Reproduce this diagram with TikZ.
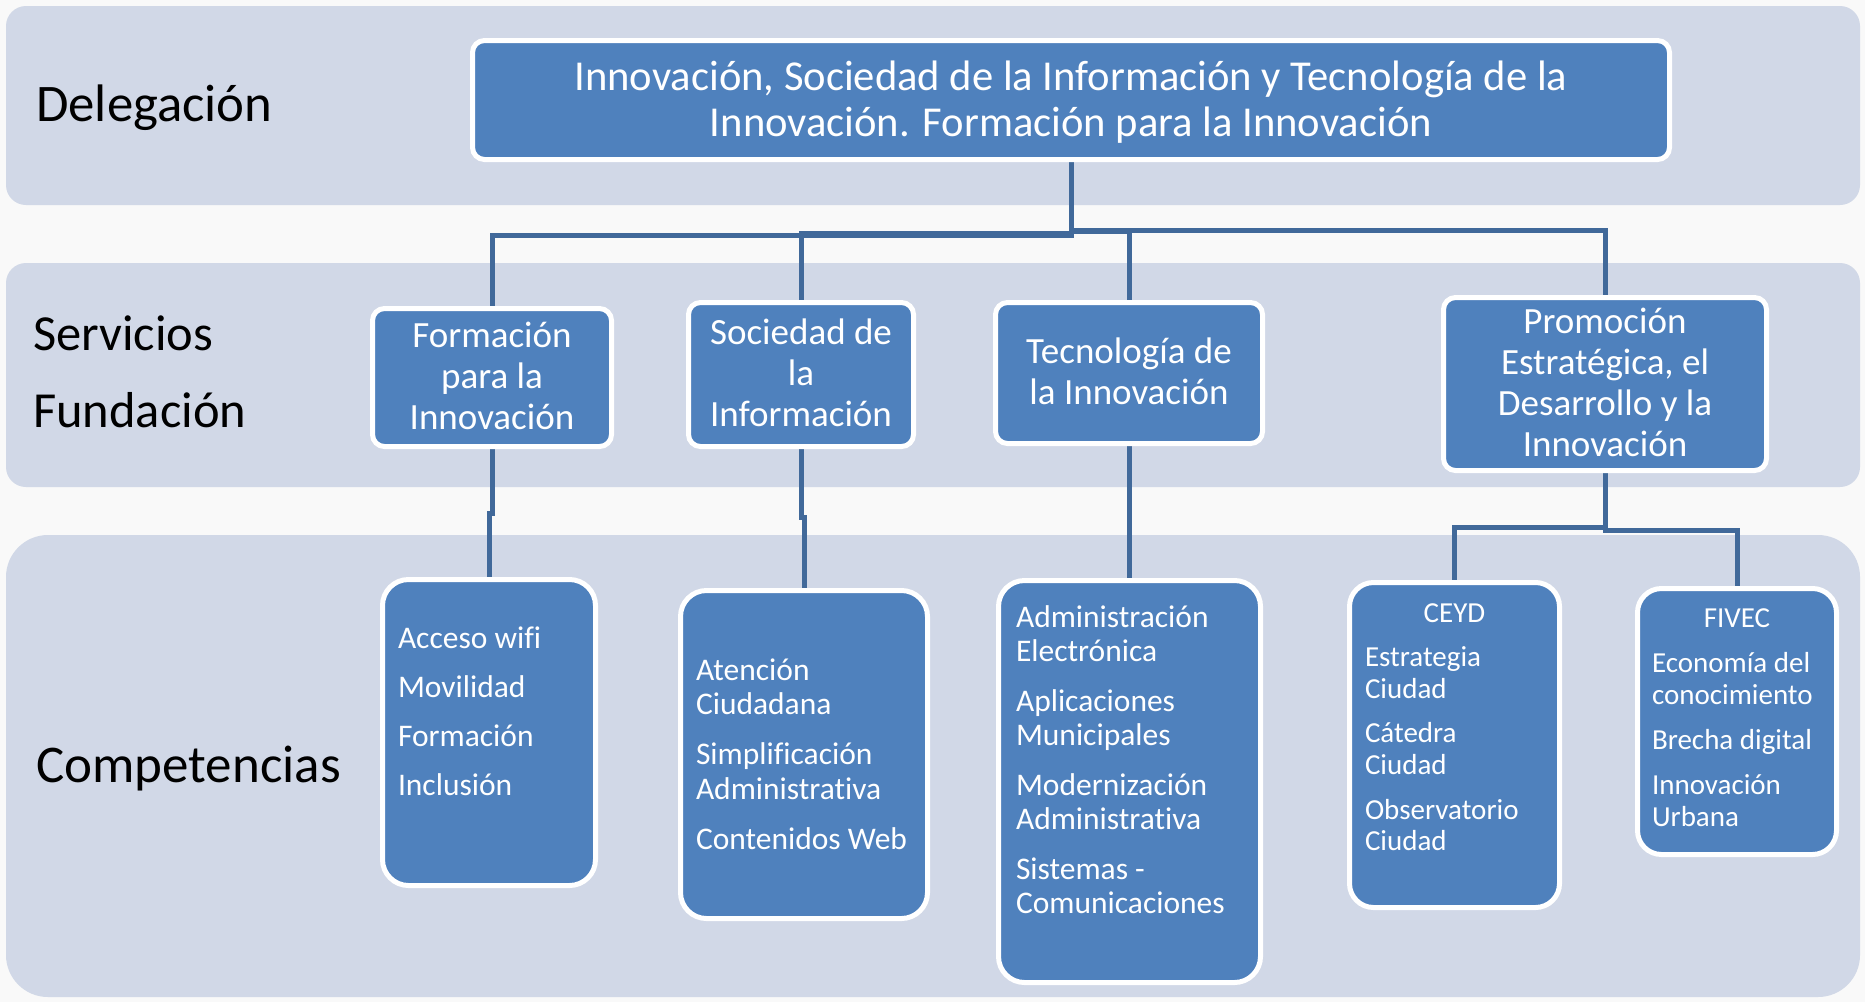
\documentclass[tikz,border=0pt]{standalone}
\usepackage{fontspec}
\setmainfont{Carlito}[Ligatures=NoCommon]
\newcommand\brk{\kern0pt }
\definecolor{pagebg}{HTML}{F9F9F9}
\definecolor{bandc}{HTML}{D1D8E7}
\definecolor{boxc}{HTML}{4F81BD}
\definecolor{linec}{HTML}{41699A}
\pgfdeclarelayer{bands}
\pgfdeclarelayer{wires}
\pgfsetlayers{bands,wires,main}
\setlength{\parskip}{0pt}
\begin{document}
\begin{tikzpicture}[x=1pt,y=-1pt,
  band/.style={fill=bandc},
  sbox/.style={draw=white, line width=5pt, fill=boxc, rounded corners=12pt, inner sep=0pt, outer sep=0pt, text=white},
  cbox/.style={sbox, rounded corners=26pt},
  conn/.style={draw=linec, line width=5pt},
  lab/.style={anchor=base west, inner sep=0pt, text=black},
  sfont/.style={font=\fontsize{37}{41}\selectfont},
  cfont/.style={font=\fontsize{31.5}{34.8}\selectfont},
  kfont/.style={font=\fontsize{29}{31.8}\selectfont}]
\useasboundingbox (0,0) rectangle (1865,1002);
\begin{pgfonlayer}{bands}
\fill[pagebg] (0,0) rectangle (1865,1002);
\fill[band, rounded corners=20pt] (6,6) rectangle (1860,205);
\fill[band, rounded corners=20pt] (6,263) rectangle (1860,487);
\fill[band, rounded corners=42pt] (6,535) rectangle (1860,997);
\end{pgfonlayer}

% row labels
\node[lab, font=\fontsize{52.8}{60}\selectfont] (ldel) at (36,121) {Delegación};
\node[lab, font=\fontsize{50.5}{58}\selectfont] (lser) at (33,350) {Servicios};
\node[lab, font=\fontsize{50.5}{58}\selectfont] (lfun) at (33,427) {Fundación};
\node[lab, font=\fontsize{53}{60}\selectfont] (lcom) at (36,782) {Competencias};

% top box
\node[sbox, font=\fontsize{42.6}{46}\selectfont] (top) at (1071,100)
  {\parbox[c][119pt][t]{1197pt}{\centering\rule{0pt}{49.5pt}Innovación, Sociedad de la Información y Tecnología de la\\Innovación. Formación para la Innovación}};

% servicios
\node[sbox, sfont] (form) at (492,377.5)
  {\parbox[c][138pt][t]{239pt}{\centering\rule{0pt}{38.5pt}Formación\\para la\\Innovación}};
\node[sbox, sfont] (soc) at (801,374.5)
  {\parbox[c][144pt][t]{225pt}{\centering\rule{0pt}{41.5pt}Sociedad de\\la\\Información}};
\node[sbox, sfont] (tec) at (1129,373)
  {\parbox[c][141pt][t]{267pt}{\centering\rule{0pt}{60.5pt}Tecnología de\\la Innovación}};
\node[sbox, sfont] (prom) at (1605,384)
  {\parbox[c][173pt][t]{323pt}{\centering\rule{0pt}{35.5pt}Promoción\\Estratégica, el\\Desarrollo y la\\Innovación}};

% competencias
\node[cbox, cfont] (acc) at (489,732.5)
  {\parbox[c][306pt][t]{213pt}{\raggedright\leftskip=15.5pt\rule{0pt}{68.5pt}Acceso wif\brk i\\[14.4pt]Movilidad\\[14.4pt]Formación\\[14.4pt]Inclusión}};
\node[cbox, cfont] (ate) at (804,754.5)
  {\parbox[c][328pt][t]{247pt}{\raggedright\leftskip=15.5pt\rule{0pt}{89.5pt}Atención\\Ciudadana\\[15pt]Simplif\brk icación\\Administrat\brk iva\\[15pt]Contenidos Web}};
\node[cbox, cfont] (tci) at (1129.5,781.5)
  {\parbox[c][402pt][t]{262pt}{\raggedright\leftskip=17.5pt\rule{0pt}{46.5pt}Administración\\Electrónica\\[14.4pt]Aplicaciones\\Municipales\\[14.4pt]Modernización\\Administrat\brk iva\\[14.4pt]Sistemas -\\Comunicaciones}};
\node[cbox, kfont, rounded corners=24pt] (ceyd) at (1454.5,745)
  {\parbox[c][325pt][t]{210pt}{{\centering\rule{0pt}{39.5pt}CEYD\par}\vspace{13pt}{\raggedright\leftskip=15.5pt Estrategia\\Ciudad\\[12.5pt]Cátedra\\Ciudad\\[12.5pt]Observatorio\\Ciudad\par}}};
\node[cbox, kfont, rounded corners=24pt] (fivec) at (1737,721.5)
  {\parbox[c][266pt][t]{199pt}{{\centering\rule{0pt}{38.5pt}FIVEC\par}\vspace{13.5pt}{\raggedright\leftskip=14.5pt Economía del\\conocimiento\\[13.5pt]Brecha digital\\[13.5pt]Innovación\\Urbana\par}}};

% connectors
\begin{pgfonlayer}{wires}
\draw[conn] (top.south) -- (top.south |- 0,235) -| (form.north);
\draw[conn] (top.south) -- (top.south |- 0,233) -| (soc.north);
\draw[conn] (top.south) -- (top.south |- 0,231) -| (tec.north);
\draw[conn] (top.south) -- (top.south |- 0,230) -| (prom.north);
\draw[conn] (form.south) -- (form.south |- 0,513) -| (acc.north);
\draw[conn] (soc.south) -- (soc.south |- 0,517) -| (ate.north);
\draw[conn] (tec.south) -- (tec.south |- 0,515) -| (tci.north);
\draw[conn] (prom.south) -- (prom.south |- 0,527) -| (ceyd.north);
\draw[conn] (prom.south) -- (prom.south |- 0,530) -| (fivec.north);
\end{pgfonlayer}
\end{tikzpicture}
\end{document}
